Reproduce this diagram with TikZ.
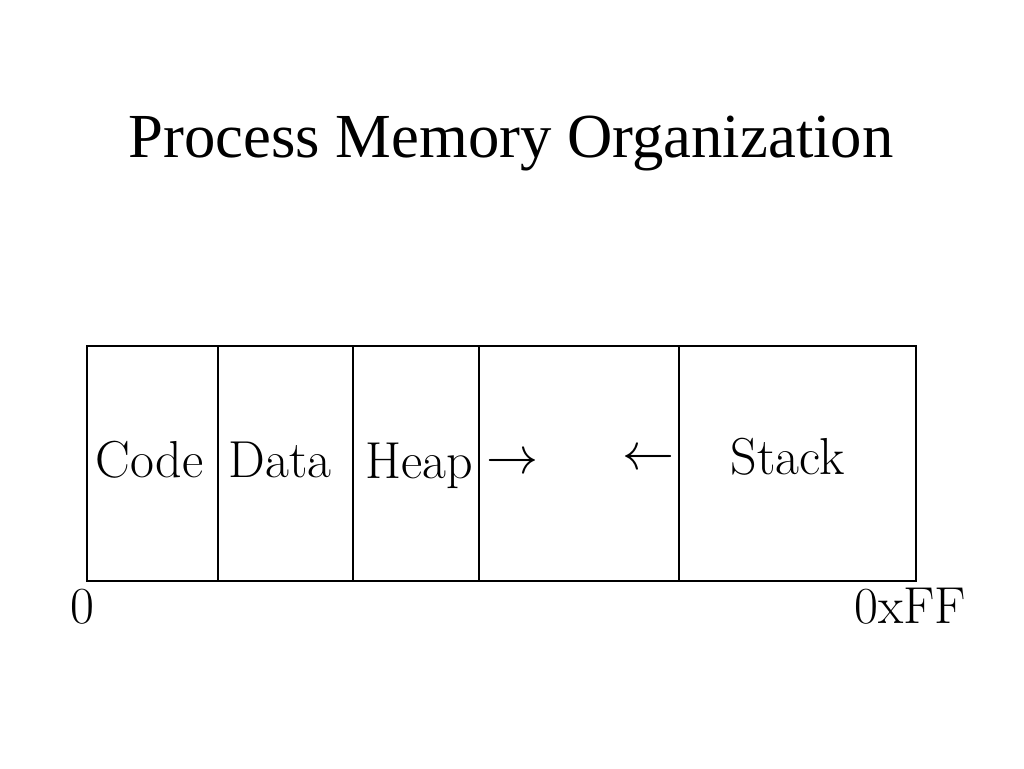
\documentclass[tikz,border=0pt]{standalone}
\usepackage{fontspec}
\usepackage{graphicx}
\newfontfamily\titlefont{Liberation Serif}
\begin{document}
\begin{tikzpicture}[x=1pt,y=-1pt,
  seg/.style={draw=black,line width=1.5pt},
  lbl/.style={anchor=base,inner sep=0pt,font=\fontsize{52}{54}\selectfont},
  arr/.style={anchor=center,inner sep=0pt}]
\useasboundingbox (0,0) rectangle (1024,768);
\node[anchor=base,inner sep=0pt,font=\titlefont\fontsize{62.7}{66}\selectfont] (title) at (511,157) {Process Memory Organization};
\draw[seg] (87,346) rectangle (916,581);
\coordinate (d1t) at (218,346); \coordinate (d1b) at (218,581);
\coordinate (d2t) at (353,346); \coordinate (d2b) at (353,581);
\coordinate (d3t) at (479,346); \coordinate (d3b) at (479,581);
\coordinate (d4t) at (679,346); \coordinate (d4b) at (679,581);
\draw[seg] (d1t) -- (d1b);
\draw[seg] (d2t) -- (d2b);
\draw[seg] (d3t) -- (d3b);
\draw[seg] (d4t) -- (d4b);
\node[lbl] (code) at (149.5,477) {Code};
\node[lbl] (data) at (280,477) {Data};
\node[lbl] (heap) at (419,478) {Heap};
\node[lbl] (stack) at (787.5,474) {Stack};
\node[arr] (ra) at (512,464) {\scalebox{5.2}{$\rightarrow$}};
\node[arr] (la) at (648,460) {\scalebox{5.2}{$\leftarrow$}};
\node[lbl] (zero) at (82,623) {0};
\node[lbl] (ff) at (910,623) {0xFF};
\end{tikzpicture}
\end{document}
